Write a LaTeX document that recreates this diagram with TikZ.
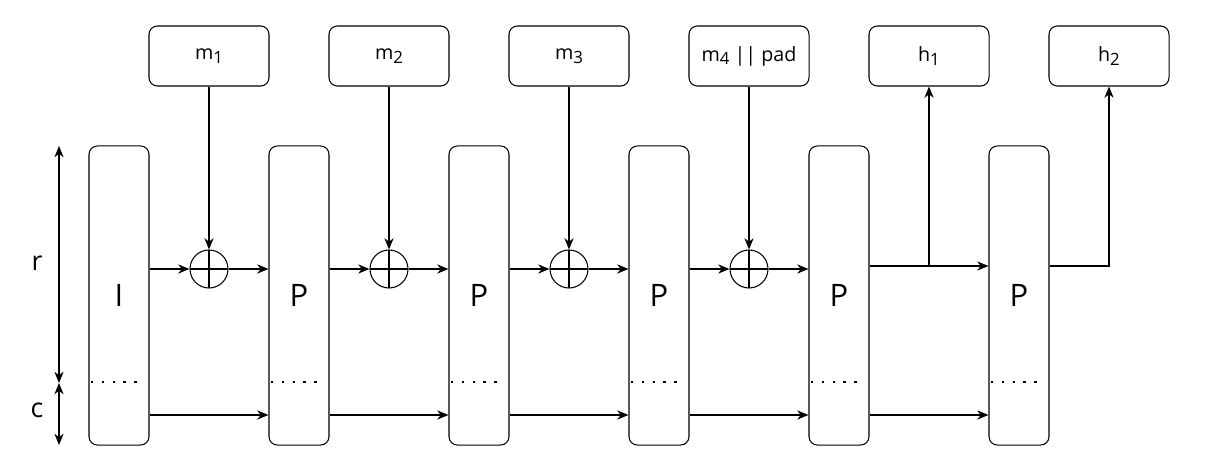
\documentclass[tikz,border=0pt]{standalone}
\usepackage{fontspec}
\setmainfont{Open Sans}
\usetikzlibrary{arrows.meta}

\newcommand{\lowix}[1]{\raisebox{-0.35ex}{\fontsize{12}{12}\selectfont #1}}

\tikzset{
  perm/.style={draw, rounded corners=6pt, minimum width=1.5cm, minimum height=7.475cm, line width=0.75pt, font=\fontsize{22}{26}\selectfont},
  block/.style={draw, rounded corners=6pt, minimum width=3cm, minimum height=1.5cm, line width=0.75pt, font=\fontsize{14}{16}\selectfont},
  xor/.style={draw, circle, minimum size=0.95cm, inner sep=0pt, line width=0.75pt,
    path picture={\draw[line width=0.75pt] (path picture bounding box.north) -- (path picture bounding box.south)
      (path picture bounding box.west) -- (path picture bounding box.east);}},
  flow/.style={-{Stealth[length=8pt,width=6.5pt,inset=2.5pt]}, line width=0.75pt},
  span/.style={{Stealth[length=8pt,width=6.5pt,inset=2.5pt]}-{Stealth[length=8pt,width=6.5pt,inset=2.5pt]}, line width=0.75pt},
  rsplit/.style={line width=1.8pt, dash pattern=on 1.8pt off 6pt},
  dimlabel/.style={font=\fontsize{19}{22}\selectfont},
}

\begin{document}
\begin{tikzpicture}[x=0.025cm, y=-0.025cm]
\useasboundingbox (0,0) rectangle (1207,472);

% permutation columns
\foreach \i/\x/\t in {0/119/I,1/299/P,2/479/P,3/659/P,4/839/P,5/1019/P}
  \node [perm] (s\i) at (\x,295.5) {\t};

% message and output blocks
\foreach \n/\x/\t in {m1/209/{m\lowix{1}},m2/389/{m\lowix{2}},m3/569/{m\lowix{3}},m4/749/{m\lowix{4} || pad},h1/929/{h\lowix{1}},h2/1109/{h\lowix{2}}}
  \node [block] (\n) at (\x,56) {\t};

\foreach \i/\x in {1/209,2/389,3/569,4/749}
  \node [xor] (x\i) at (\x,269) {};

\coordinate (rate) at (0,266);
\coordinate (cap) at (0,415);
\coordinate (split) at (0,382);

% absorbing
\foreach \i/\j in {1/0,2/1,3/2,4/3} {
  \draw [flow] (s\j.east |- x\i) -- (x\i);
  \draw [flow] (x\i) -- (s\i.west |- x\i);
  \draw [flow] (m\i) -- (x\i);
}

% capacity part
\foreach \i/\j in {0/1,1/2,2/3,3/4,4/5}
  \draw [flow] (s\i.east |- cap) -- (s\j.west |- cap);

\foreach \i in {0,...,5}
  \draw [rsplit] ([xshift=1.5pt]s\i.west |- split) -- ([xshift=-4pt]s\i.east |- split);

% squeezing
\draw [flow] (s4.east |- rate) -- (s5.west |- rate);
\draw [flow] (h1 |- rate) -- (h1);
\draw [flow] (s5.east |- rate) -| (h2);

% r and c
\coordinate (rtop) at (59,146);
\coordinate (rbot) at (59,383);
\coordinate (cbot) at (59,445);
\draw [span] (rtop) -- (rbot);
\draw [span] (rbot) -- (cbot);
\node [dimlabel] (rlab) at (37,263) {r};
\node [dimlabel] (clab) at (37,410) {c};

\end{tikzpicture}
\end{document}
